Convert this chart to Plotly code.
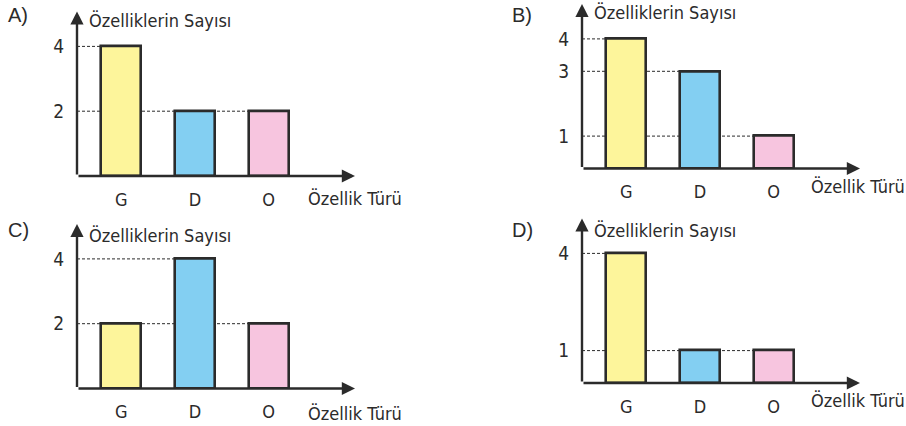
import plotly.graph_objects as go

# Feature types on the horizontal axis
categories = ["G", "D", "O"]

# Number of features per type, one set per option
values_a = [4, 2, 2]
values_b = [4, 3, 1]
values_c = [2, 4, 2]
values_d = [4, 1, 1]

option_labels = ["A)", "B)", "C)", "D)"]
y_title = "Özelliklerin Sayısı"
x_title = "Özellik Türü"

bar_colors = ["#FDF59B", "#83CFF2", "#F7C5DF"]
ink = "#2b2b2b"

W, H = 906, 426
X_LO, X_HI = -0.6, 3.17      # category index range of each panel
Y_TOP = 5.08                 # where the vertical arrow ends
BAR_W = 0.54
UNIT = 32.4                  # pixels per count

# panel geometry in pixels: left edge of y axis, pixel row of zero
panels = [
    dict(vals=values_a, left=77, zero=176.0, title_y=20, lab=(18, 15), xt=(306, 198)),
    dict(vals=values_b, left=582, zero=168.5, title_y=13, lab=(522, 15), xt=(809, 186)),
    dict(vals=values_c, left=77, zero=388.5, title_y=235, lab=(18, 230), xt=(306, 413)),
    dict(vals=values_d, left=582, zero=383.0, title_y=230, lab=(522, 230), xt=(809, 400)),
]
PANEL_W = 278

fnt = "'DejaVu Sans Condensed', 'Arial Narrow', sans-serif"
fnt_wide = "'Liberation Sans', Arial, sans-serif"

fig = go.Figure()
layout = dict(
    width=W, height=H, margin=dict(l=0, r=0, t=0, b=0),
    paper_bgcolor="white", plot_bgcolor="rgba(0,0,0,0)",
    font=dict(family=fnt, color=ink),
    showlegend=False, bargap=0, shapes=[], annotations=[],
)

for i, p in enumerate(panels):
    n = "" if i == 0 else str(i + 1)
    xa, ya = "x" + n, "y" + n
    vals = p["vals"]
    x0 = p["left"] / W
    x1 = (p["left"] + PANEL_W) / W
    y_top_px = p["zero"] - (Y_TOP + 0.1) * UNIT
    y_bot_px = p["zero"]
    dom_y = [1 - y_bot_px / H, 1 - y_top_px / H]

    fig.add_trace(go.Bar(
        x=categories, y=vals, width=BAR_W,
        marker=dict(color=bar_colors, line=dict(color=ink, width=2.6)),
        xaxis=xa, yaxis=ya, hoverinfo="skip",
    ))

    ticks = sorted(set(vals))
    layout["xaxis" + n] = dict(
        domain=[x0, x1], range=[X_LO, X_HI], type="category",
        showgrid=False, zeroline=False, showline=False,
        ticks="outside", ticklen=7, tickcolor="rgba(0,0,0,0)",
        tickfont=dict(family=fnt, size=18, color=ink),
        anchor=ya, fixedrange=True,
    )
    layout["yaxis" + n] = dict(
        domain=dom_y, range=[0, Y_TOP + 0.1],
        tickvals=ticks, ticktext=[str(t) for t in ticks],
        showgrid=False, zeroline=False, showline=False,
        ticks="outside", ticklen=8, tickcolor="rgba(0,0,0,0)",
        tickfont=dict(family=fnt, size=19, color=ink),
        anchor=xa, fixedrange=True,
    )

    # dashed guides from the axis to the last bar reaching each value
    for v in ticks:
        last = max(j for j, val in enumerate(vals) if val == v)
        layout["shapes"].append(dict(
            type="line", xref=xa, yref=ya, layer="below",
            x0=X_LO, x1=last - BAR_W / 2, y0=v, y1=v,
            line=dict(color=ink, width=1, dash="3px,2px"),
        ))

    # axes drawn as arrows
    layout["annotations"].append(dict(
        xref=xa, yref=ya, axref=xa, ayref=ya,
        x=X_HI, y=0, ax=X_LO, ay=0, text="", showarrow=True,
        arrowhead=2, arrowsize=1.1, arrowwidth=2.4, arrowcolor=ink,
    ))
    layout["annotations"].append(dict(
        xref=xa, yref=ya, axref=xa, ayref=ya,
        x=X_LO, y=Y_TOP, ax=X_LO, ay=0, text="", showarrow=True,
        arrowhead=2, arrowsize=1.1, arrowwidth=2.4, arrowcolor=ink,
    ))

    # axis titles and option label
    layout["annotations"].append(dict(
        xref="paper", yref="paper", x=(p["left"] + 10) / W, y=1 - p["title_y"] / H,
        xanchor="left", yanchor="middle", text=y_title, showarrow=False,
        font=dict(family=fnt, size=18, color=ink),
    ))
    layout["annotations"].append(dict(
        xref="paper", yref="paper", x=p["xt"][0] / W, y=1 - p["xt"][1] / H,
        xanchor="left", yanchor="middle", text=x_title, showarrow=False,
        font=dict(family=fnt, size=18, color=ink),
    ))
    layout["annotations"].append(dict(
        xref="paper", yref="paper", x=p["lab"][0] / W, y=1 - p["lab"][1] / H,
        xanchor="center", yanchor="middle", text=option_labels[i], showarrow=False,
        font=dict(family=fnt_wide, size=20, color=ink),
    ))

fig.update_layout(**layout)
fig.write_html("out.html", config=dict(displayModeBar=False))
